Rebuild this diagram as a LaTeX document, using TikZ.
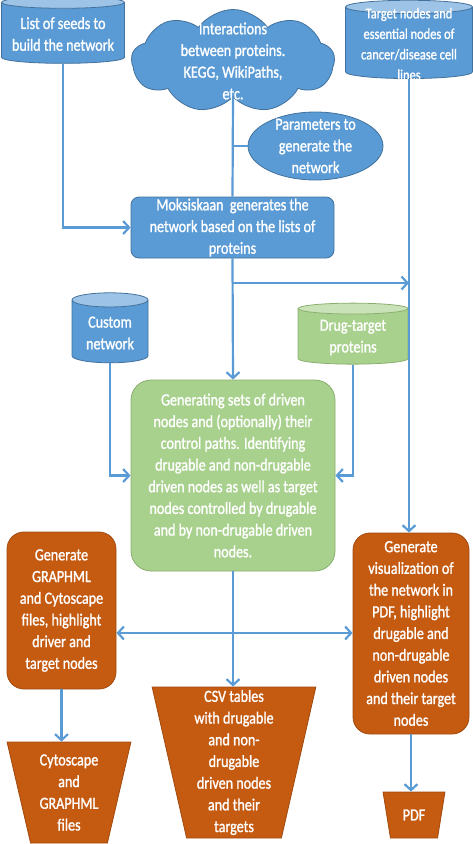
\documentclass[tikz,border=0pt]{standalone}
\usepackage{fontspec}
\setmainfont{Carlito}[FakeStretch=0.83, FakeBold=1.2]
\usetikzlibrary{shapes.geometric,shapes.symbols,arrows.meta}

\definecolor{bluefill}{HTML}{5B9BD5}
\definecolor{blueline}{HTML}{41719C}
\definecolor{bluetop}{HTML}{9DC3E6}
\definecolor{greenfill}{HTML}{A9D18E}
\definecolor{greenline}{HTML}{8AAE6E}
\definecolor{greentop}{HTML}{C9E2B8}
\definecolor{orangefill}{HTML}{C55A11}
\definecolor{orangeline}{HTML}{A04A0F}

\begin{document}
\begin{tikzpicture}[x=1pt, y=-1pt,
    txt/.style={text=white, align=center, font=\fontsize{17}{21.7}\selectfont},
    db/.style={cylinder, shape border rotate=90, draw=blueline, line width=0.8pt, cylinder uses custom fill, cylinder body fill=bluefill, cylinder end fill=bluetop, txt},
    greendb/.style={db, draw=greenline, cylinder body fill=greenfill, cylinder end fill=greentop},
    bluebox/.style={rectangle, rounded corners=8pt, draw=blueline, fill=bluefill, line width=0.8pt, txt},
    greenbox/.style={rectangle, rounded corners=20pt, draw=greenline, fill=greenfill, line width=0.8pt, txt},
    orangebox/.style={rectangle, rounded corners=17pt, draw=orangeline, fill=orangefill, line width=0.8pt, txt},
    tray/.style={trapezium, trapezium stretches=true, draw=orangeline, fill=orangefill, line width=0.8pt, txt},
    flowline/.style={draw=bluefill, line width=2.2pt},
    flow/.style={flowline, -{Straight Barb[length=6pt,width=13pt]}}]

    \useasboundingbox (0,0) rectangle (473,844);

    \node (seeds) [db, aspect=0.11, minimum width=123pt, minimum height=67pt] at (63,34) {List of seeds to\\build the network};
    \node (cloud) [cloud, cloud puffs=9, cloud puff arc=110, cloud ignores aspect, draw=blueline, fill=bluefill, line width=0.8pt, txt, minimum width=203pt, minimum height=103pt, inner xsep=0pt, inner ysep=-25pt] at (233,61) {Interactions\\between proteins.\\KEGG, WikiPaths,\\etc.};
    \node (target) [db, aspect=0.13, minimum width=127pt, minimum height=78pt, inner ysep=-6pt, font=\fontsize{15}{20.5}\selectfont] at (409,44) {Target nodes and\\essential nodes of\\cancer/disease cell\\lines};
    \node (params) [ellipse, draw=blueline, fill=bluefill, line width=0.8pt, txt, minimum width=135pt, minimum height=68pt, inner xsep=0pt, inner ysep=-12pt] at (315.5,146) {Parameters to\\generate the\\network};

    \node (moks) [bluebox, minimum width=203pt, minimum height=61pt, inner ysep=0pt] at (232.5,227.5) {Moksiskaan\ \ generates the\\network based on the lists of\\proteins};

    \node (custom) [db, aspect=0.26, minimum width=76pt, minimum height=70pt] at (110,333) {Custom\\network};
    \node (drug) [greendb, aspect=0.15, minimum width=110pt, minimum height=61pt] at (353,337.5) {Drug-target\\proteins};

    \node (drive) [greenbox, minimum width=204pt, minimum height=191pt] at (233,475.5) {Generating sets of driven\\nodes and (optionally) their\\control paths. Identifying\\drugable and non-drugable\\driven nodes as well as target\\nodes controlled by drugable\\and by non-drugable driven\\nodes.};

    \node (graphml) [orangebox, minimum width=109pt, minimum height=157pt] at (61.5,610.5) {Generate\\GRAPHML\\and Cytoscape\\files, highlight\\driver and\\target nodes};
    \node (viz) [orangebox, minimum width=116pt, minimum height=201pt] at (411,633.5) {Generate\\visualization of\\the network in\\PDF, highlight\\drugable and\\non-drugable\\driven nodes\\and their target\\nodes};

    \node (cyto) [tray, trapezium left angle=103.6, trapezium right angle=103.6, minimum width=124pt, minimum height=101pt] at (69,792.5) {Cytoscape\\and\\GRAPHML\\files};
    \node (csv) [tray, trapezium left angle=102, trapezium right angle=102, minimum width=164pt, minimum height=151pt, inner ysep=1pt] at (234,762.5) {CSV tables\\with drugable\\and non-\\drugable\\driven nodes\\and their\\targets};
    \node (pdf) [tray, trapezium left angle=104.6, trapezium right angle=104.6, minimum width=62pt, minimum height=46pt] at (414,815) {PDF};

    \coordinate (fork) at (233,283);
    \coordinate (spread) at (233,633);

    \draw[flow] (seeds.south) |- (moks.west);
    \draw[flowline] (cloud.south) -- (moks.north);
    \draw[flowline] (params.west) -- (params.west -| cloud.south);
    \draw[flow] (moks.south) -- (drive.north);
    \draw[flow] (fork) -- (fork -| target.south);
    \draw[flow] (target.south) -- (target.south |- viz.north);
    \draw[flow] (custom.south) |- (drive.west);
    \draw[flow] (drug.south) |- (drive.east);
    \draw[flow] (drive.south) -- (drive.south |- csv.north);
    \draw[flow, {Straight Barb[length=6pt,width=13pt]}-{Straight Barb[length=6pt,width=13pt]}] (spread -| graphml.east) -- (spread -| viz.west);
    \draw[flow] (graphml.south) -- (graphml.south |- cyto.north);
    \draw[flow] (viz.south) -- (viz.south |- pdf.north);
\end{tikzpicture}
\end{document}
